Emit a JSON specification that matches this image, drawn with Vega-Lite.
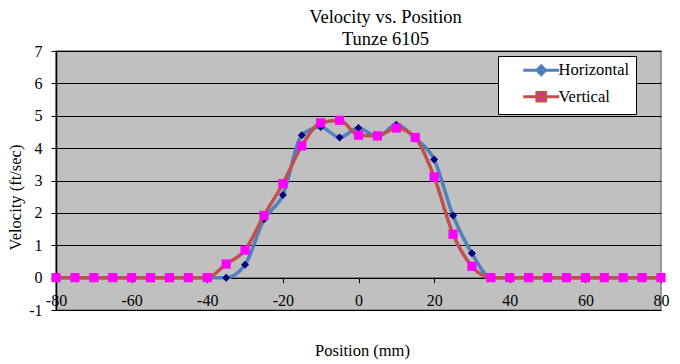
{
  "$schema": "https://vega.github.io/schema/vega-lite/v6.json",
  "width": 605,
  "height": 259,
  "autosize": "none",
  "padding": {"left": 56, "top": 51, "right": 19, "bottom": 54},
  "background": "white",
  "config": {
    "font": "'Liberation Serif', 'Times New Roman', serif",
    "view": {"fill": "#C0C0C0", "stroke": "#808080", "strokeWidth": 1.5}
  },
  "title": {
    "text": ["Velocity vs. Position", "Tunze 6105"],
    "font": "'Liberation Serif', 'Times New Roman', serif",
    "fontSize": 18.5,
    "fontWeight": "normal",
    "color": "black",
    "anchor": "middle",
    "frame": "group",
    "dx": 27,
    "lineHeight": 22,
    "offset": -5
  },
  "data": {
    "values": [
      {"x": -80, "series": "Horizontal", "v": 0}, {"x": -75, "series": "Horizontal", "v": 0},
      {"x": -70, "series": "Horizontal", "v": 0}, {"x": -65, "series": "Horizontal", "v": 0},
      {"x": -60, "series": "Horizontal", "v": 0}, {"x": -55, "series": "Horizontal", "v": 0},
      {"x": -50, "series": "Horizontal", "v": 0}, {"x": -45, "series": "Horizontal", "v": 0},
      {"x": -40, "series": "Horizontal", "v": 0}, {"x": -35, "series": "Horizontal", "v": 0},
      {"x": -30, "series": "Horizontal", "v": 0.4}, {"x": -25, "series": "Horizontal", "v": 1.8},
      {"x": -20, "series": "Horizontal", "v": 2.55}, {"x": -15, "series": "Horizontal", "v": 4.4},
      {"x": -10, "series": "Horizontal", "v": 4.65}, {"x": -5, "series": "Horizontal", "v": 4.33},
      {"x": 0, "series": "Horizontal", "v": 4.62}, {"x": 5, "series": "Horizontal", "v": 4.35},
      {"x": 10, "series": "Horizontal", "v": 4.72}, {"x": 15, "series": "Horizontal", "v": 4.3},
      {"x": 20, "series": "Horizontal", "v": 3.65}, {"x": 25, "series": "Horizontal", "v": 1.92},
      {"x": 30, "series": "Horizontal", "v": 0.75}, {"x": 35, "series": "Horizontal", "v": 0},
      {"x": 40, "series": "Horizontal", "v": 0}, {"x": 45, "series": "Horizontal", "v": 0},
      {"x": 50, "series": "Horizontal", "v": 0}, {"x": 55, "series": "Horizontal", "v": 0},
      {"x": 60, "series": "Horizontal", "v": 0}, {"x": 65, "series": "Horizontal", "v": 0},
      {"x": 70, "series": "Horizontal", "v": 0}, {"x": 75, "series": "Horizontal", "v": 0},
      {"x": 80, "series": "Horizontal", "v": 0},
      {"x": -80, "series": "Vertical", "v": 0}, {"x": -75, "series": "Vertical", "v": 0},
      {"x": -70, "series": "Vertical", "v": 0}, {"x": -65, "series": "Vertical", "v": 0},
      {"x": -60, "series": "Vertical", "v": 0}, {"x": -55, "series": "Vertical", "v": 0},
      {"x": -50, "series": "Vertical", "v": 0}, {"x": -45, "series": "Vertical", "v": 0},
      {"x": -40, "series": "Vertical", "v": 0}, {"x": -35, "series": "Vertical", "v": 0.42},
      {"x": -30, "series": "Vertical", "v": 0.85}, {"x": -25, "series": "Vertical", "v": 1.92},
      {"x": -20, "series": "Vertical", "v": 2.9}, {"x": -15, "series": "Vertical", "v": 4.07},
      {"x": -10, "series": "Vertical", "v": 4.78}, {"x": -5, "series": "Vertical", "v": 4.86},
      {"x": 0, "series": "Vertical", "v": 4.4}, {"x": 5, "series": "Vertical", "v": 4.38},
      {"x": 10, "series": "Vertical", "v": 4.62}, {"x": 15, "series": "Vertical", "v": 4.33},
      {"x": 20, "series": "Vertical", "v": 3.11}, {"x": 25, "series": "Vertical", "v": 1.34},
      {"x": 30, "series": "Vertical", "v": 0.35}, {"x": 35, "series": "Vertical", "v": 0},
      {"x": 40, "series": "Vertical", "v": 0}, {"x": 45, "series": "Vertical", "v": 0},
      {"x": 50, "series": "Vertical", "v": 0}, {"x": 55, "series": "Vertical", "v": 0},
      {"x": 60, "series": "Vertical", "v": 0}, {"x": 65, "series": "Vertical", "v": 0},
      {"x": 70, "series": "Vertical", "v": 0}, {"x": 75, "series": "Vertical", "v": 0},
      {"x": 80, "series": "Vertical", "v": 0}
    ]
  },
  "encoding": {
    "x": {
      "field": "x", "type": "quantitative",
      "scale": {"domain": [-80, 80], "nice": false, "zero": false},
      "axis": {
        "title": "Position (mm)",
        "values": [-80, -60, -40, -20, 0, 20, 40, 60, 80],
        "labelExpr": "'' + datum.value",
        "offset": -32.375,
        "grid": false,
        "domainColor": "black", "domainWidth": 1,
        "tickColor": "black", "tickSize": 5, "tickWidth": 1,
        "labelFont": "'Liberation Serif', 'Times New Roman', serif", "labelFontSize": 16, "labelColor": "black",
        "labelPadding": 10, "labelFlush": false, "labelOverlap": false,
        "titleFont": "'Liberation Serif', 'Times New Roman', serif", "titleFontSize": 16.5, "titleFontWeight": "normal", "titleColor": "black",
        "titleX": 306, "titleY": 73, "titleBaseline": "middle"
      }
    },
    "y": {
      "field": "v", "type": "quantitative",
      "scale": {"domain": [-1, 7], "nice": false, "zero": false},
      "axis": {
        "title": "Velocity (ft/sec)",
        "values": [-1, 0, 1, 2, 3, 4, 5, 6, 7],
        "labelExpr": "'' + datum.value",
        "grid": true, "gridColor": "black", "gridWidth": 1, "gridOpacity": 1,
        "domainColor": "black", "domainWidth": 1.5,
        "tickColor": "black", "tickSize": 5, "tickWidth": 1,
        "labelFont": "'Liberation Serif', 'Times New Roman', serif", "labelFontSize": 16, "labelColor": "black",
        "labelPadding": 9,
        "titleFont": "'Liberation Serif', 'Times New Roman', serif", "titleFontSize": 16.5, "titleFontWeight": "normal", "titleColor": "black",
        "titleX": -41, "titleY": 146, "titleBaseline": "middle", "titleAngle": -90
      }
    }
  },
  "layer": [
    {
      "transform": [{"filter": "datum.series === 'Horizontal'"}],
      "mark": {"type": "line", "interpolate": "monotone", "strokeWidth": 3.5},
      "encoding": {
        "color": {
          "field": "series", "type": "nominal",
          "scale": {"domain": ["Horizontal", "Vertical"], "range": ["#4F81BD", "#C0504D"]},
          "legend": {
            "title": "\u2003",
            "titleOrient": "right", "titlePadding": 0, "titleFontSize": 16.5,
            "titleFont": "'Liberation Serif', 'Times New Roman', serif", "titleColor": "white",
            "orient": "none", "legendX": 442, "legendY": 5,
            "fillColor": "white", "strokeColor": "black",
            "padding": 6, "rowPadding": 4.5,
            "symbolSize": 144, "symbolStrokeWidth": 3, "symbolOffset": 29,
            "labelOffset": 9, "labelFont": "'Liberation Serif', 'Times New Roman', serif", "labelFontSize": 16.5, "labelColor": "black",
            "encode": {
              "symbols": {
                "update": {
                  "shape": {"signal": "datum.value === 'Horizontal' ? 'M-3,0H3M0,-0.72L0.72,0L0,0.72L-0.72,0Z' : 'M-3,0H3M-0.72,-0.72H0.72V0.72H-0.72Z'"},
                  "fill": {"signal": "datum.value === 'Horizontal' ? '#000080' : '#FF00FF'"}
                }
              }
            }
          }
        }
      }
    },
    {
      "transform": [{"filter": "datum.series === 'Horizontal'"}],
      "mark": {"type": "point", "shape": "diamond", "filled": true, "size": 64, "color": "#000080", "opacity": 1}
    },
    {
      "transform": [{"filter": "datum.series === 'Vertical'"}],
      "mark": {"type": "line", "interpolate": "monotone", "strokeWidth": 3.5},
      "encoding": {
        "color": {"field": "series", "type": "nominal"}
      }
    },
    {
      "transform": [{"filter": "datum.series === 'Vertical'"}],
      "mark": {"type": "point", "shape": "square", "filled": true, "size": 85, "color": "#FF00FF", "opacity": 1}
    }
  ]
}
